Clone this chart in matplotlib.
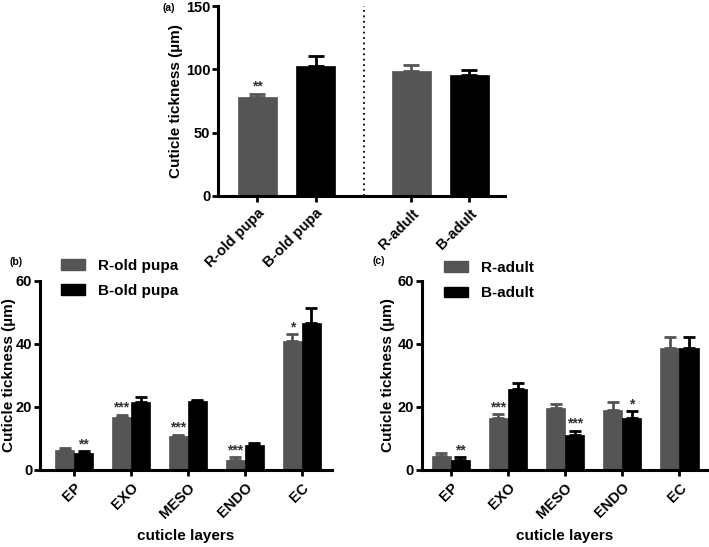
import matplotlib
matplotlib.use("Agg")
import matplotlib.pyplot as plt
from matplotlib.patches import Patch

plt.rcParams['font.family'] = ['Liberation Sans', 'DejaVu Sans']
plt.rcParams['font.weight'] = 'bold'

GRAY = '#555555'
BLACK = '#000000'

# panel (a): total cuticle thickness
a_labels = ['R-old pupa', 'B-old pupa', 'R-adult', 'B-adult']
a_means = [78, 103, 98.5, 95.3]
a_errs = [2.8, 7.5, 4.7, 4.4]
a_stars = ['**', '', '', '']

# panels (b) and (c): cuticle layers
layers = ['EP', 'EXO', 'MESO', 'ENDO', 'EC']

b_r_means = [6.3, 16.7, 10.7, 3.2, 40.8]
b_r_errs = [0.6, 0.8, 0.5, 0.8, 2.3]
b_b_means = [5.5, 21.4, 21.75, 7.8, 46.5]
b_b_errs = [0.5, 1.7, 0.45, 0.6, 4.7]
b_r_stars = ['', '***', '***', '***', '*']
b_b_stars = ['**', '', '', '', '']

c_r_means = [4.5, 16.4, 19.7, 19.1, 38.6]
c_r_errs = [1.0, 1.2, 1.1, 2.3, 3.4]
c_b_means = [3.3, 25.6, 11.0, 16.5, 38.6]
c_b_errs = [0.7, 2.0, 1.4, 2.2, 3.4]
c_r_stars = ['', '***', '', '', '']
c_b_stars = ['**', '', '***', '*', '']


def style_axis(ax):
    for s in ['top', 'right']:
        ax.spines[s].set_visible(False)
    for s in ['left', 'bottom']:
        ax.spines[s].set_linewidth(2.2)
    ax.tick_params(width=2.0, length=4, labelsize=10.5)
    ax.tick_params(axis='y', pad=1.5)
    for lab in ax.get_yticklabels():
        lab.set_fontweight('bold')


def bars_with_err(ax, xs, means, errs, color, width, stars, capsize):
    ax.bar(xs, means, width=width, color=color, edgecolor=color, linewidth=0.5, zorder=2)
    ax.errorbar(xs, means, yerr=[[0] * len(errs), errs], fmt='none', ecolor=color,
                elinewidth=2.0, capsize=capsize, capthick=2.0, zorder=1)
    for x, m, e, s in zip(xs, means, errs, stars):
        if s:
            ax.text(x, m + e, s, ha='center', va='bottom', fontsize=10,
                    color='#333333', fontweight='bold')


fig = plt.figure(figsize=(7.09, 5.47), dpi=100)

# ---- (a)
ax_a = fig.add_axes([0.3075, 0.6417, 0.4045, 0.3473])
pos_a = [0, 1, 2.65, 3.65]
cols_a = [GRAY, BLACK, GRAY, BLACK]
for x, m, e, c, s in zip(pos_a, a_means, a_errs, cols_a, a_stars):
    bars_with_err(ax_a, [x], [m], [e], c, 0.68, [s], 6)
ax_a.axvline(1.83, color='black', linestyle=(0, (1, 2)), linewidth=1.3, zorder=0)
ax_a.set_xlim(-0.68, 4.26)
ax_a.set_ylim(0, 150)
ax_a.set_yticks([0, 50, 100, 150])
ax_a.set_xticks(pos_a)
ax_a.set_xticklabels(a_labels, rotation=45, ha='right', rotation_mode='anchor',
                     fontsize=11, fontweight='bold')
ax_a.set_ylabel('Cuticle tickness (µm)', fontsize=11, fontweight='bold')
ax_a.yaxis.set_label_coords(-0.122, 0.5)
style_axis(ax_a)
fig.text(0.229, 0.995, '(a)', fontsize=7.5, fontweight='bold', va='top')


def layer_panel(rect, r_means, r_errs, b_means, b_errs, r_stars, b_stars, xlim, ylab_x):
    ax = fig.add_axes(rect)
    idx = list(range(len(layers)))
    w = 0.335
    bars_with_err(ax, [i - w / 2 for i in idx], r_means, r_errs, GRAY, w, r_stars, 4.5)
    bars_with_err(ax, [i + w / 2 for i in idx], b_means, b_errs, BLACK, w, b_stars, 4.5)
    ax.set_xlim(*xlim)
    ax.set_ylim(0, 60)
    ax.set_yticks([0, 20, 40, 60])
    ax.set_xticks(idx)
    ax.set_xticklabels(layers, rotation=45, ha='right', rotation_mode='anchor',
                       fontsize=10.5, fontweight='bold')
    ax.set_ylabel('Cuticle tickness (µm)', fontsize=11, fontweight='bold')
    ax.yaxis.set_label_coords(ylab_x, 0.5)
    ax.set_xlabel('cuticle layers', fontsize=11, fontweight='bold', labelpad=6)
    style_axis(ax)
    return ax


ax_b = layer_panel([0.0564, 0.1408, 0.4118, 0.346], b_r_means, b_r_errs, b_b_means,
                   b_b_errs, b_r_stars, b_b_stars, (-0.6, 4.53), -0.082)
ax_c = layer_panel([0.5948, 0.1408, 0.4038, 0.346], c_r_means, c_r_errs, c_b_means,
                   c_b_errs, c_r_stars, c_b_stars, (-0.51, 4.5), -0.093)

fig.text(0.014, 0.521, '(b)', fontsize=7.5, fontweight='bold', va='center')
fig.text(0.526, 0.523, '(c)', fontsize=7.5, fontweight='bold', va='center')

leg_kw = dict(frameon=False, handlelength=1.6, handleheight=0.7,
              handletextpad=0.8, labelspacing=0.75, borderpad=0, borderaxespad=0,
              prop={'weight': 'bold', 'size': 11})
fig.legend(handles=[Patch(color=GRAY, label='R-old pupa'), Patch(color=BLACK, label='B-old pupa')],
           loc='upper left', bbox_to_anchor=(0.086, 0.527), **leg_kw)
fig.legend(handles=[Patch(color=GRAY, label='R-adult'), Patch(color=BLACK, label='B-adult')],
           loc='upper left', bbox_to_anchor=(0.626, 0.523), **leg_kw)

fig.savefig('out.png', dpi=100)
